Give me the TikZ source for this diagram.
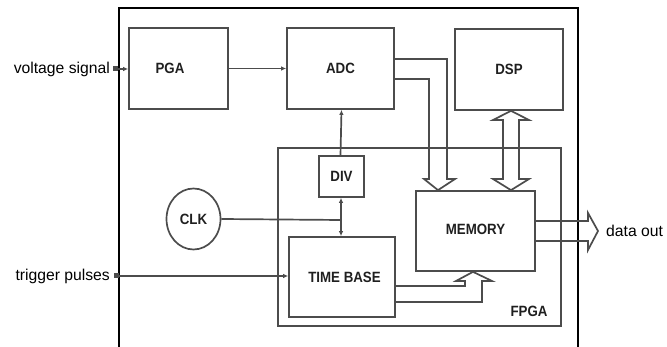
\documentclass[tikz,border=0pt]{standalone}
\usepackage{fontspec}
\usepackage{graphicx}
\setmainfont{Liberation Sans}
\usetikzlibrary{arrows.meta,shapes.geometric}
\newcommand\bxl[1]{\scalebox{1}[1.12]{#1}}
\begin{document}
\begin{tikzpicture}[x=1pt,y=-1pt,
  blk/.style={draw=black!70,line width=1.7pt,inner sep=0pt,fill=none},
  blabel/.style={font=\fontsize{13.3}{15}\selectfont\bfseries,text=black!88,inner sep=0pt},
  olabel/.style={font=\fontsize{15.7}{18}\selectfont,text=black,inner sep=0pt},
  wire/.style={draw=black!70,line width=1.7pt},
  tip/.style={-{Latex[length=5pt,width=4.5pt]}},
  dtip/.style={{Latex[length=5pt,width=4.5pt]}-{Latex[length=5pt,width=4.5pt]}},
  sq/.style={{Square[length=4.5pt,width=5pt]}-{Latex[length=5pt,width=4.5pt]}},
  hollow/.style={draw=black!70,line width=1.7pt,line join=miter}]
\useasboundingbox (0,0) rectangle (667,347);
% outer frame (bottom edge cut off)
\draw[black,line width=2pt] (119,349) -- (119,8) -- (578,8) -- (578,349);
% FPGA box
\node[blk,minimum width=283pt,minimum height=178pt] (fpga) at (419.5,237) {};
\node[blabel] (fpgalbl) at (529,311) {\bxl{FPGA}};
% blocks
\node[blk,minimum width=99pt,minimum height=81pt] (pga) at (178.5,68.5) {};
\node[blabel] (pgalbl) at (170,68.5) {\bxl{PGA}};
\node[blk,minimum width=107pt,minimum height=81pt,blabel] (adc) at (340.5,68.5) {\bxl{ADC}};
\node[blk,minimum width=108pt,minimum height=81pt,blabel] (dsp) at (509,69.5) {\bxl{DSP}};
\node[blk,minimum width=45pt,minimum height=41pt,blabel] (div) at (341.5,176.5) {\bxl{DIV}};
\node[blk,ellipse,minimum width=54pt,minimum height=61pt,blabel] (clk) at (193.5,219) {\bxl{CLK}};
\node[blk,minimum width=106pt,minimum height=80pt,blabel] (tb) at (342,277) {};
\node[blabel] (tblbl) at (344.5,277) {\bxl{TIME BASE}};
\node[blk,minimum width=119pt,minimum height=80pt] (mem) at (475.5,231) {};
\node[blabel] (memlbl) at (475.5,229) {\bxl{MEMORY}};
% outside labels
\node[olabel,anchor=east] (vs) at (110,69) {voltage signal};
\node[olabel,anchor=east] (tp) at (110,276) {trigger pulses};
\node[olabel,anchor=west] (dout) at (606,231) {data out};
\coordinate (vsin) at (113,69);
\coordinate (tpin) at (114,276);
% signal arrows
\draw[wire,sq] (vsin) -- (pga.west |- vsin);
\draw[wire,sq] (tpin) -- (tb.west |- tpin);
\draw[wire,tip] (pga.east) -- (adc.west);
\draw[wire,tip] (div.north -| adc.south) -- (adc.south -| div.north);
\coordinate (dj) at (341,220);
\draw[wire,dtip] (div.south -| dj) -- (tb.north -| dj);
\draw[wire] (clk.east) -- (dj);
% hollow arrow ADC -> MEMORY
\draw[hollow] (adc.east |- 0,59) -- (447,59) -- (447,179) -- (455,179) -- (mem.north -| 438,0) -- (424,179) -- (429,179) -- (429,79) -- (adc.east |- 0,79);
% hollow double arrow DSP <-> MEMORY
\draw[hollow] (503,120) -- (493,120) -- (dsp.south -| 511,0) -- (529,120) -- (519,120) -- (519,179) -- (529,179) -- (mem.north -| 511,0) -- (493,179) -- (503,179) -- cycle;
% hollow arrow TIME BASE -> MEMORY
\draw[hollow] (tb.east |- 0,286) -- (465,286) -- (465,281) -- (456,281) -- (mem.south -| 473,0) -- (492,281) -- (482,281) -- (482,302) -- (tb.east |- 0,302);
% hollow arrow data out
\draw[hollow] (mem.east |- 0,221) -- (588,221) -- (588,213) -- (598,231) -- (588,250) -- (588,241) -- (mem.east |- 0,241);
\end{tikzpicture}
\end{document}
